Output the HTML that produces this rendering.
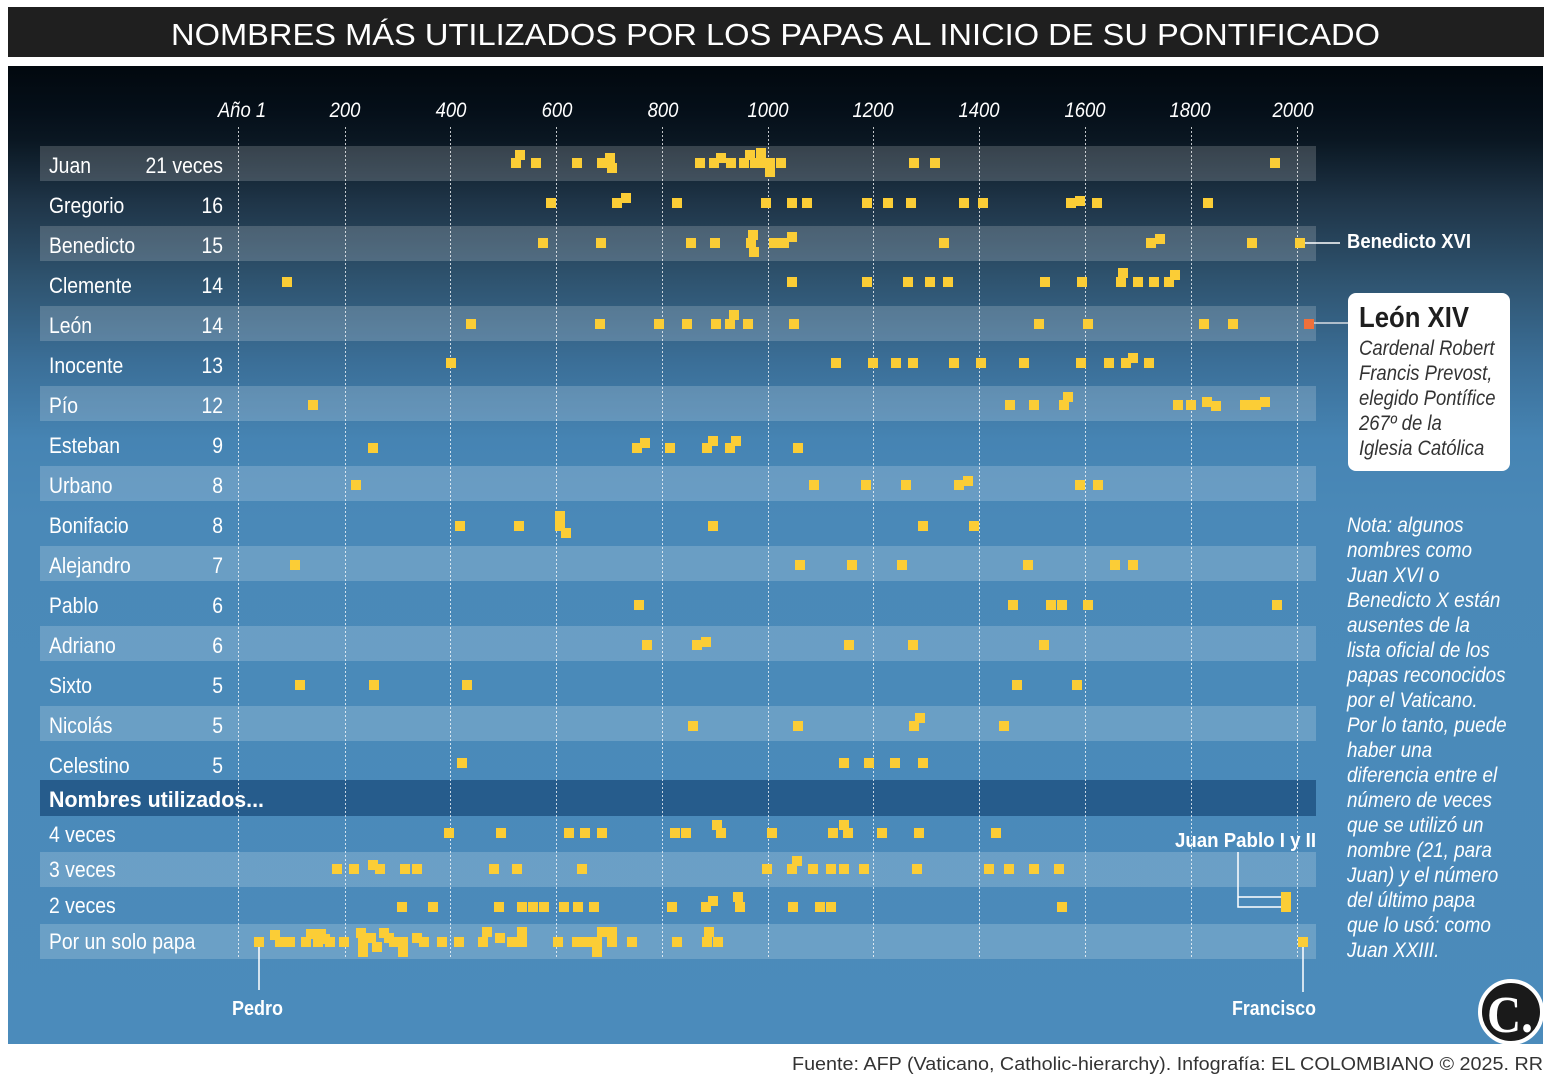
<!DOCTYPE html>
<html><head><meta charset="utf-8"><style>
html,body{margin:0;padding:0;background:#fff;}
body{width:1552px;height:1084px;overflow:hidden;}
svg{display:block;font-family:"Liberation Sans",sans-serif;}
.lab{font-size:22px;fill:#fff;}
.ax{font-size:21px;fill:#fff;font-style:italic;}
.it{font-size:21px;font-style:italic;}
.b{font-weight:bold;}
</style></head><body>
<svg width="1552" height="1084" viewBox="0 0 1552 1084" xmlns="http://www.w3.org/2000/svg">
<defs>
<linearGradient id="bg" x1="0" y1="0" x2="0" y2="1">
<stop offset="0" stop-color="#02080e"/>
<stop offset="0.045" stop-color="#050f19"/>
<stop offset="0.076" stop-color="#0a1722"/>
<stop offset="0.14" stop-color="#1f3548"/>
<stop offset="0.221" stop-color="#2f5470"/>
<stop offset="0.304" stop-color="#3b6f98"/>
<stop offset="0.382" stop-color="#4684b3"/>
<stop offset="0.464" stop-color="#4a89b8"/>
<stop offset="1" stop-color="#4b8bbb"/>
</linearGradient>
</defs>

<!-- Title -->
<rect x="8" y="7" width="1536" height="50" fill="#1f1f1f"/>
<text x="171" y="45" font-size="31" fill="#fff" textLength="1209" lengthAdjust="spacingAndGlyphs">NOMBRES MÁS UTILIZADOS POR LOS PAPAS AL INICIO DE SU PONTIFICADO</text>

<!-- Panel -->
<rect x="8" y="66" width="1535" height="978" fill="url(#bg)"/>

<!-- Bands -->
<g fill="#fff" fill-opacity="0.18">
<rect x="40" y="146" width="1276" height="35"/>
<rect x="40" y="226" width="1276" height="35"/>
<rect x="40" y="306" width="1276" height="35"/>
<rect x="40" y="386" width="1276" height="35"/>
<rect x="40" y="466" width="1276" height="35"/>
<rect x="40" y="546" width="1276" height="35"/>
<rect x="40" y="626" width="1276" height="35"/>
<rect x="40" y="706" width="1276" height="35"/>
<rect x="40" y="852" width="1276" height="35"/>
<rect x="40" y="924" width="1276" height="35"/>
</g>
<rect x="40" y="780" width="1276" height="36" fill="#265c8c"/>

<!-- Grid -->
<g stroke="#fff" stroke-opacity="0.75" stroke-width="1" stroke-dasharray="2,2">
<line x1="238.5" y1="127" x2="238.5" y2="959"/>
<line x1="345.5" y1="127" x2="345.5" y2="959"/>
<line x1="450.5" y1="127" x2="450.5" y2="959"/>
<line x1="556.5" y1="127" x2="556.5" y2="959"/>
<line x1="662.5" y1="127" x2="662.5" y2="959"/>
<line x1="768.5" y1="127" x2="768.5" y2="959"/>
<line x1="873.5" y1="127" x2="873.5" y2="959"/>
<line x1="979.5" y1="127" x2="979.5" y2="959"/>
<line x1="1085.5" y1="127" x2="1085.5" y2="959"/>
<line x1="1191.5" y1="127" x2="1191.5" y2="959"/>
<line x1="1297.5" y1="127" x2="1297.5" y2="959"/>
</g>

<!-- Axis labels -->
<g class="ax" text-anchor="middle">
<text transform="translate(242,117) scale(0.88,1)">Año 1</text>
<text transform="translate(345,117) scale(0.88,1)">200</text>
<text transform="translate(451,117) scale(0.88,1)">400</text>
<text transform="translate(557,117) scale(0.88,1)">600</text>
<text transform="translate(663,117) scale(0.88,1)">800</text>
<text transform="translate(768,117) scale(0.88,1)">1000</text>
<text transform="translate(873,117) scale(0.88,1)">1200</text>
<text transform="translate(979,117) scale(0.88,1)">1400</text>
<text transform="translate(1085,117) scale(0.88,1)">1600</text>
<text transform="translate(1190,117) scale(0.88,1)">1800</text>
<text transform="translate(1293,117) scale(0.88,1)">2000</text>
</g>

<!-- Row labels -->
<g class="lab" transform="translate(49,0) scale(0.88,1)">
<text x="0" y="173">Juan</text>
<text x="0" y="213">Gregorio</text>
<text x="0" y="253">Benedicto</text>
<text x="0" y="293">Clemente</text>
<text x="0" y="333">León</text>
<text x="0" y="373">Inocente</text>
<text x="0" y="413">Pío</text>
<text x="0" y="453">Esteban</text>
<text x="0" y="493">Urbano</text>
<text x="0" y="533">Bonifacio</text>
<text x="0" y="573">Alejandro</text>
<text x="0" y="613">Pablo</text>
<text x="0" y="653">Adriano</text>
<text x="0" y="693">Sixto</text>
<text x="0" y="733">Nicolás</text>
<text x="0" y="773">Celestino</text>
<text x="0" y="842">4 veces</text>
<text x="0" y="877">3 veces</text>
<text x="0" y="913">2 veces</text>
<text x="0" y="949">Por un solo papa</text>
</g>
<text x="49" y="807" class="lab b" textLength="215" lengthAdjust="spacingAndGlyphs">Nombres utilizados...</text>
<g class="lab" transform="translate(223,0) scale(0.88,1)" text-anchor="end">
<text x="0" y="173">21 veces</text>
<text x="0" y="213">16</text>
<text x="0" y="253">15</text>
<text x="0" y="293">14</text>
<text x="0" y="333">14</text>
<text x="0" y="373">13</text>
<text x="0" y="413">12</text>
<text x="0" y="453">9</text>
<text x="0" y="493">8</text>
<text x="0" y="533">8</text>
<text x="0" y="573">7</text>
<text x="0" y="613">6</text>
<text x="0" y="653">6</text>
<text x="0" y="693">5</text>
<text x="0" y="733">5</text>
<text x="0" y="773">5</text>
</g>

<!-- Connector lines -->
<g stroke="#fff" stroke-width="1.5" fill="none">
<line x1="1305" y1="243" x2="1340" y2="243"/>
<line x1="259" y1="947" x2="259" y2="990"/>
<line x1="1303" y1="947" x2="1303" y2="992"/>
<path d="M1238 852 V907 H1281 M1238 897 H1281"/>
</g>
<line x1="1314" y1="323" x2="1348" y2="323" stroke="#d8dde3" stroke-width="1.5"/>

<!-- Dots -->
<g fill="#fbcd36">
<path d="M511 158h10v10h-10z M515 150h10v10h-10z M531 158h10v10h-10z M572 158h10v10h-10z M597 158h10v10h-10z M605 153h10v10h-10z M607 163h10v10h-10z M695 158h10v10h-10z M709 158h10v10h-10z M716 153h10v10h-10z M726 158h10v10h-10z M739 158h10v10h-10z M745 150h10v10h-10z M750 158h10v10h-10z M756 148h10v10h-10z M757 158h10v10h-10z M765 158h10v10h-10z M765 167h10v10h-10z M776 158h10v10h-10z M909 158h10v10h-10z M930 158h10v10h-10z M1270 158h10v10h-10z"/>
<path d="M546 198h10v10h-10z M612 198h10v10h-10z M621 193h10v10h-10z M672 198h10v10h-10z M761 198h10v10h-10z M787 198h10v10h-10z M802 198h10v10h-10z M862 198h10v10h-10z M883 198h10v10h-10z M906 198h10v10h-10z M959 198h10v10h-10z M978 198h10v10h-10z M1066 198h10v10h-10z M1075 196h10v10h-10z M1092 198h10v10h-10z M1203 198h10v10h-10z"/>
<path d="M538 238h10v10h-10z M596 238h10v10h-10z M686 238h10v10h-10z M710 238h10v10h-10z M748 230h10v10h-10z M746 238h10v10h-10z M749 247h10v10h-10z M769 238h10v10h-10z M779 238h10v10h-10z M787 232h10v10h-10z M939 238h10v10h-10z M1146 238h10v10h-10z M1155 234h10v10h-10z M1247 238h10v10h-10z M1295 238h10v10h-10z"/>
<path d="M282 277h10v10h-10z M787 277h10v10h-10z M862 277h10v10h-10z M903 277h10v10h-10z M925 277h10v10h-10z M943 277h10v10h-10z M1040 277h10v10h-10z M1077 277h10v10h-10z M1116 277h10v10h-10z M1118 268h10v10h-10z M1133 277h10v10h-10z M1149 277h10v10h-10z M1164 277h10v10h-10z M1170 270h10v10h-10z"/>
<path d="M466 319h10v10h-10z M595 319h10v10h-10z M654 319h10v10h-10z M682 319h10v10h-10z M711 319h10v10h-10z M725 319h10v10h-10z M729 310h10v10h-10z M743 319h10v10h-10z M789 319h10v10h-10z M1034 319h10v10h-10z M1083 319h10v10h-10z M1199 319h10v10h-10z M1228 319h10v10h-10z"/>
<path d="M446 358h10v10h-10z M831 358h10v10h-10z M868 358h10v10h-10z M891 358h10v10h-10z M908 358h10v10h-10z M949 358h10v10h-10z M976 358h10v10h-10z M1019 358h10v10h-10z M1076 358h10v10h-10z M1104 358h10v10h-10z M1121 358h10v10h-10z M1128 353h10v10h-10z M1144 358h10v10h-10z"/>
<path d="M308 400h10v10h-10z M1005 400h10v10h-10z M1029 400h10v10h-10z M1059 400h10v10h-10z M1063 392h10v10h-10z M1173 400h10v10h-10z M1186 400h10v10h-10z M1202 397h10v10h-10z M1211 401h10v10h-10z M1240 400h10v10h-10z M1245 400h10v10h-10z M1251 400h10v10h-10z M1260 397h10v10h-10z"/>
<path d="M368 443h10v10h-10z M632 443h10v10h-10z M640 438h10v10h-10z M665 443h10v10h-10z M702 443h10v10h-10z M708 436h10v10h-10z M725 443h10v10h-10z M731 436h10v10h-10z M793 443h10v10h-10z"/>
<path d="M351 480h10v10h-10z M809 480h10v10h-10z M861 480h10v10h-10z M901 480h10v10h-10z M954 480h10v10h-10z M963 476h10v10h-10z M1075 480h10v10h-10z M1093 480h10v10h-10z"/>
<path d="M455 521h10v10h-10z M514 521h10v10h-10z M555 511h10v10h-10z M555 521h10v10h-10z M561 528h10v10h-10z M708 521h10v10h-10z M918 521h10v10h-10z M969 521h10v10h-10z"/>
<path d="M290 560h10v10h-10z M795 560h10v10h-10z M847 560h10v10h-10z M897 560h10v10h-10z M1023 560h10v10h-10z M1110 560h10v10h-10z M1128 560h10v10h-10z"/>
<path d="M634 600h10v10h-10z M1008 600h10v10h-10z M1046 600h10v10h-10z M1057 600h10v10h-10z M1083 600h10v10h-10z M1272 600h10v10h-10z"/>
<path d="M642 640h10v10h-10z M692 640h10v10h-10z M701 637h10v10h-10z M844 640h10v10h-10z M908 640h10v10h-10z M1039 640h10v10h-10z"/>
<path d="M295 680h10v10h-10z M369 680h10v10h-10z M462 680h10v10h-10z M1012 680h10v10h-10z M1072 680h10v10h-10z"/>
<path d="M688 721h10v10h-10z M793 721h10v10h-10z M909 721h10v10h-10z M915 713h10v10h-10z M999 721h10v10h-10z"/>
<path d="M457 758h10v10h-10z M839 758h10v10h-10z M864 758h10v10h-10z M890 758h10v10h-10z M918 758h10v10h-10z"/>
<path d="M444 828h10v10h-10z M496 828h10v10h-10z M564 828h10v10h-10z M580 828h10v10h-10z M597 828h10v10h-10z M670 828h10v10h-10z M681 828h10v10h-10z M712 820h10v10h-10z M716 828h10v10h-10z M767 828h10v10h-10z M828 828h10v10h-10z M839 820h10v10h-10z M843 828h10v10h-10z M877 828h10v10h-10z M914 828h10v10h-10z M991 828h10v10h-10z"/>
<path d="M332 864h10v10h-10z M349 864h10v10h-10z M368 860h10v10h-10z M375 864h10v10h-10z M400 864h10v10h-10z M412 864h10v10h-10z M489 864h10v10h-10z M512 864h10v10h-10z M577 864h10v10h-10z M762 864h10v10h-10z M787 864h10v10h-10z M792 856h10v10h-10z M808 864h10v10h-10z M826 864h10v10h-10z M839 864h10v10h-10z M859 864h10v10h-10z M912 864h10v10h-10z M984 864h10v10h-10z M1004 864h10v10h-10z M1029 864h10v10h-10z M1054 864h10v10h-10z"/>
<path d="M397 902h10v10h-10z M428 902h10v10h-10z M494 902h10v10h-10z M517 902h10v10h-10z M528 902h10v10h-10z M539 902h10v10h-10z M559 902h10v10h-10z M573 902h10v10h-10z M589 902h10v10h-10z M667 902h10v10h-10z M701 902h10v10h-10z M708 896h10v10h-10z M733 892h10v10h-10z M735 902h10v10h-10z M788 902h10v10h-10z M815 902h10v10h-10z M826 902h10v10h-10z M1057 902h10v10h-10z M1281 892h10v20h-10z"/>
<path d="M254 937h10v10h-10z M270 930h10v10h-10z M275 937h10v10h-10z M285 937h10v10h-10z M301 937h10v10h-10z M306 929h10v10h-10z M313 937h10v10h-10z M316 929h10v10h-10z M320 934h10v10h-10z M325 937h10v10h-10z M339 937h10v10h-10z M356 928h10v10h-10z M358 937h10v10h-10z M358 947h10v10h-10z M366 933h10v10h-10z M372 942h10v10h-10z M379 928h10v10h-10z M384 933h10v10h-10z M389 937h10v10h-10z M398 937h10v10h-10z M398 947h10v10h-10z M412 933h10v10h-10z M419 937h10v10h-10z M437 937h10v10h-10z M454 937h10v10h-10z M478 937h10v10h-10z M482 927h10v10h-10z M495 933h10v10h-10z M507 937h10v10h-10z M517 927h10v10h-10z M517 937h10v10h-10z M553 937h10v10h-10z M572 937h10v10h-10z M582 937h10v10h-10z M592 937h10v10h-10z M597 927h10v10h-10z M592 947h10v10h-10z M607 927h10v10h-10z M607 937h10v10h-10z M627 937h10v10h-10z M672 937h10v10h-10z M702 937h10v10h-10z M704 927h10v10h-10z M713 937h10v10h-10z M1298 937h10v10h-10z"/>
</g>
<rect x="1304" y="319" width="10" height="10" fill="#f0703a"/>

<!-- Annotations -->
<text x="1347" y="248" font-size="20" class="b" fill="#fff" textLength="124" lengthAdjust="spacingAndGlyphs">Benedicto XVI</text>
<rect x="1348" y="293" width="162" height="178" rx="8" ry="8" fill="#fff"/>
<text x="1359" y="327" font-size="29" class="b" fill="#1e1e1e" textLength="110" lengthAdjust="spacingAndGlyphs">León XIV</text>
<g class="it" fill="#333" transform="translate(1359,0) scale(0.88,1)">
<text x="0" y="355">Cardenal Robert</text>
<text x="0" y="380">Francis Prevost,</text>
<text x="0" y="405">elegido Pontífice</text>
<text x="0" y="430">267º de la</text>
<text x="0" y="455">Iglesia Católica</text>
</g>

<g class="it" fill="#fff" transform="translate(1347,0) scale(0.9,1)">
<text x="0" y="532">Nota: algunos</text>
<text x="0" y="557">nombres como</text>
<text x="0" y="582">Juan XVI o</text>
<text x="0" y="607">Benedicto X están</text>
<text x="0" y="632">ausentes de la</text>
<text x="0" y="657">lista oficial de los</text>
<text x="0" y="682">papas reconocidos</text>
<text x="0" y="707">por el Vaticano.</text>
<text x="0" y="732">Por lo tanto, puede</text>
<text x="0" y="757">haber una</text>
<text x="0" y="782">diferencia entre el</text>
<text x="0" y="807">número de veces</text>
<text x="0" y="832">que se utilizó un</text>
<text x="0" y="857">nombre (21, para</text>
<text x="0" y="882">Juan) y el número</text>
<text x="0" y="907">del último papa</text>
<text x="0" y="932">que lo usó: como</text>
<text x="0" y="957">Juan XXIII.</text>
</g>

<text x="1175" y="847" font-size="20" class="b" fill="#fff" textLength="141" lengthAdjust="spacingAndGlyphs">Juan Pablo I y II</text>
<text x="1232" y="1015" font-size="20" class="b" fill="#fff" textLength="84" lengthAdjust="spacingAndGlyphs">Francisco</text>
<text x="232" y="1015" font-size="20" class="b" fill="#fff" textLength="51" lengthAdjust="spacingAndGlyphs">Pedro</text>

<!-- Logo -->
<circle cx="1511" cy="1012" r="31" fill="#1a1a1a" stroke="#fff" stroke-width="4"/>
<text x="1487" y="1032" font-family="Liberation Serif, serif" font-weight="bold" font-size="52" fill="#fff" textLength="46" lengthAdjust="spacingAndGlyphs">C.</text>

<!-- Footer -->
<text x="792" y="1070" font-size="18" fill="#333" textLength="751" lengthAdjust="spacingAndGlyphs">Fuente: AFP (Vaticano, Catholic-hierarchy). Infografía: EL COLOMBIANO © 2025. RR</text>
</svg>
</body></html>
